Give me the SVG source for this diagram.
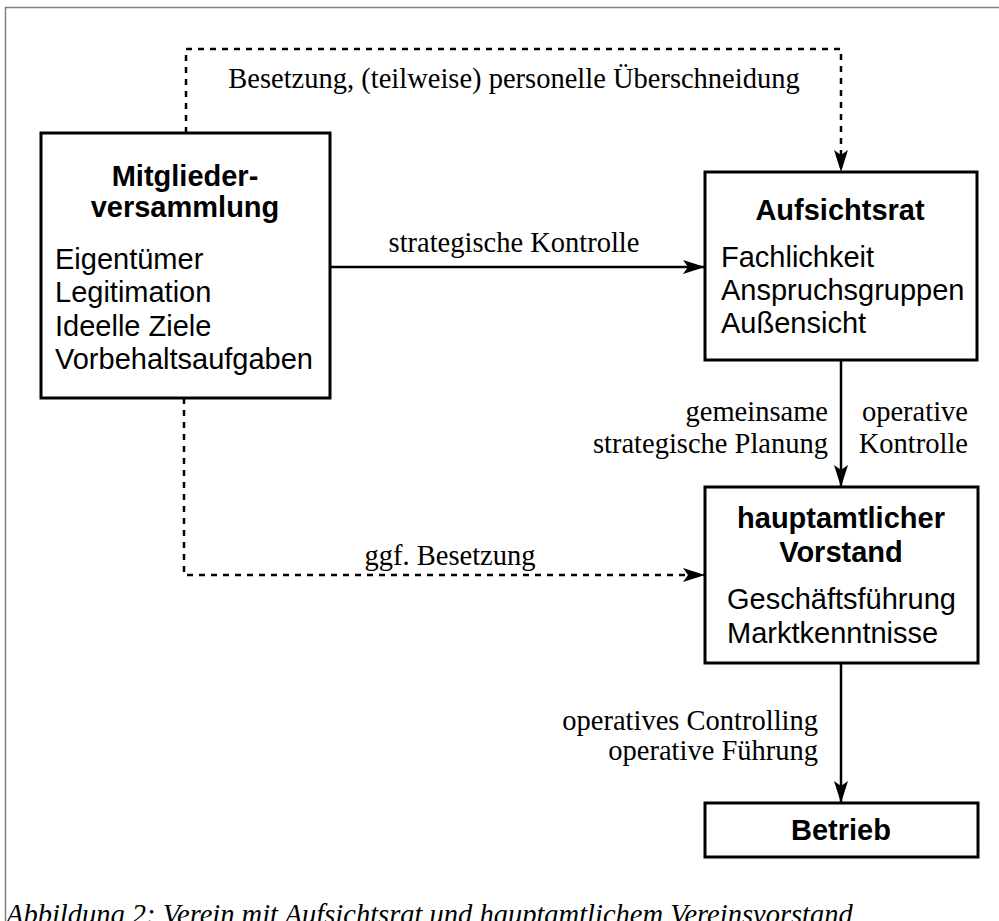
<svg xmlns="http://www.w3.org/2000/svg" width="999" height="921" viewBox="0 0 999 921">
<style>
.box{fill:#fff;stroke:#000;stroke-width:3}
.ln{fill:none;stroke:#000;stroke-width:2.5}
.dash{fill:none;stroke:#000;stroke-width:2.5;stroke-dasharray:6 6}
.hd{font-family:"Liberation Sans",Arial,sans-serif;font-weight:bold;font-size:29px;text-anchor:middle}
.it{font-family:"Liberation Sans",Arial,sans-serif;font-size:29px}
.lb{font-family:"Liberation Serif","Times New Roman",serif;font-size:28.5px}
.cap{font-family:"Liberation Serif","Times New Roman",serif;font-size:28.5px;font-style:italic}
</style>
<defs>
<marker id="ah" viewBox="0 0 22 14" refX="22" refY="7" markerWidth="22" markerHeight="14" markerUnits="userSpaceOnUse" orient="auto">
<path d="M0,0 L22,7 L0,14 L5,7 Z" fill="#000"/>
</marker>
</defs>
<rect width="999" height="921" fill="#fff"/>
<path d="M5.5,921 V7.5 H999" fill="none" stroke="#808080" stroke-width="1.5"/>
<g id="connectors">
<path class="dash" d="M186,133 V49 H841 V172" marker-end="url(#ah)"/>
<text class="lb" x="514" y="88" text-anchor="middle">Besetzung, (teilweise) personelle Überschneidung</text>
<path class="ln" d="M330,267 H705" marker-end="url(#ah)"/>
<text class="lb" x="514" y="252" text-anchor="middle">strategische Kontrolle</text>
<path class="dash" d="M184,398 V575 H705" marker-end="url(#ah)"/>
<text class="lb" x="450" y="565" text-anchor="middle">ggf. Besetzung</text>
<path class="ln" d="M841,360 V487" marker-end="url(#ah)"/>
<text class="lb" x="828" y="421" text-anchor="end">gemeinsame</text>
<text class="lb" x="828" y="453" text-anchor="end">strategische Planung</text>
<text class="lb" x="968" y="421" text-anchor="end">operative</text>
<text class="lb" x="968" y="453" text-anchor="end">Kontrolle</text>
<path class="ln" d="M841,663 V803" marker-end="url(#ah)"/>
<text class="lb" x="818" y="730" text-anchor="end">operatives Controlling</text>
<text class="lb" x="818" y="760" text-anchor="end">operative Führung</text>
</g>
<g id="mitgliederversammlung">
<rect class="box" x="41" y="133" width="289" height="265"/>
<text class="hd" x="185" y="186">Mitglieder-</text>
<text class="hd" x="185" y="217">versammlung</text>
<text class="it" x="55" y="269">Eigentümer</text>
<text class="it" x="55" y="302">Legitimation</text>
<text class="it" x="55" y="336">Ideelle Ziele</text>
<text class="it" x="55" y="369">Vorbehaltsaufgaben</text>
</g>
<g id="aufsichtsrat">
<rect class="box" x="705" y="172" width="272" height="188"/>
<text class="hd" x="840" y="220">Aufsichtsrat</text>
<text class="it" x="721" y="267">Fachlichkeit</text>
<text class="it" x="721" y="300">Anspruchsgruppen</text>
<text class="it" x="721" y="333">Außensicht</text>
</g>
<g id="vorstand">
<rect class="box" x="705" y="487" width="273" height="176"/>
<text class="hd" x="841" y="528">hauptamtlicher</text>
<text class="hd" x="841" y="562">Vorstand</text>
<text class="it" x="727" y="609">Geschäftsführung</text>
<text class="it" x="727" y="643">Marktkenntnisse</text>
</g>
<g id="betrieb">
<rect class="box" x="705" y="803" width="273" height="54"/>
<text class="hd" x="841" y="840">Betrieb</text>
</g>
<text class="cap" x="6" y="924">Abbildung 2: Verein mit Aufsichtsrat und hauptamtlichem Vereinsvorstand</text>
</svg>
